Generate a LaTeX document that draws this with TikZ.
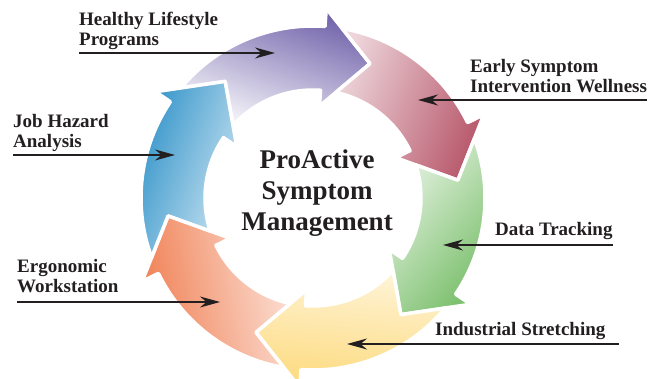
\documentclass[tikz,border=0pt]{standalone}
\usepackage{fontspec}
\setmainfont{Liberation Serif}
\usetikzlibrary{arrows.meta}
\definecolor{lilac}{RGB}{112,98,170}
\definecolor{rose}{RGB}{184,88,108}
\definecolor{leaf}{RGB}{120,190,105}
\definecolor{sun}{RGB}{253,218,125}
\definecolor{peach}{RGB}{240,128,84}
\definecolor{sky}{RGB}{45,145,200}
\definecolor{ink}{RGB}{35,31,32}

\begin{document}
\begin{tikzpicture}[x=1pt,y=1pt]
\tikzstyle{every node}+=[inner sep=0pt]
\tikzstyle{itemtext}=[font=\fontsize{19}{20}\selectfont\bfseries, text=ink, align=left, anchor=north west]
\tikzstyle{pointer}=[draw=ink, line width=1.4pt, -{Stealth[length=20pt,width=11pt]}]
\tikzstyle{ringpart}=[draw=white, line width=3.5pt, line join=round]
\useasboundingbox (0,0) rectangle (655,379);
% six arrows round the ring, tip of each at angle \j
\foreach \j/\c/\l/\t in {67/lilac/5/-20, 7/rose/25/-110, -53/leaf/20/-130, -113/sun/30/175, -173/peach/25/100, 127/sky/25/70}
  \shadedraw[ringpart, shift={(313,181)}, top color=\c, bottom color=\c!\l, shading angle=\t]
    ({\j+73.2}:172) arc[start angle=\j+73.2, end angle=\j+19, radius=172]
    -- ({\j+19}:190) -- (\j:146) -- ({\j+19}:92) -- ({\j+19}:108)
    arc[start angle=\j+19, end angle=\j+70.8, radius=108]
    -- ({\j+60}:146) -- cycle;
% centre
\node (pasm) at (317,186) [font=\fontsize{27}{31}\selectfont\bfseries, text=ink, align=center] {ProActive\\Symptom\\Management};
% labels
\node[itemtext] (healthy) at (79,367) {Healthy Lifestyle\\Programs};
\node[itemtext] (jobhazard) at (13,265) {Job Hazard\\Analysis};
\node[itemtext] (early) at (470,320) {Early Symptom\\Intervention Wellness};
\node[itemtext] (datatrack) at (495,157) {Data Tracking};
\node[itemtext] (industrial) at (435,57) {Industrial Stretching};
\node[itemtext] (ergonomic) at (17,120) {Ergonomic\\Workstation};
\coordinate (healthyend) at (275,326);
\coordinate (jobend) at (175,224);
\coordinate (earlyend) at (418,279);
\coordinate (dataend) at (443,134);
\coordinate (indend) at (347,35);
\coordinate (ergoend) at (220,77);
\draw[pointer] (healthy.west |- healthyend) -- (healthyend);
\draw[pointer] (jobhazard.west |- jobend) -- (jobend);
\draw[pointer] (early.east |- earlyend) -- (earlyend);
\draw[pointer] (datatrack.east |- dataend) -- (dataend);
\draw[pointer] ([xshift=13pt]industrial.east |- indend) -- (indend);
\draw[pointer] (ergonomic.west |- ergoend) -- (ergoend);
\end{tikzpicture}
\end{document}
